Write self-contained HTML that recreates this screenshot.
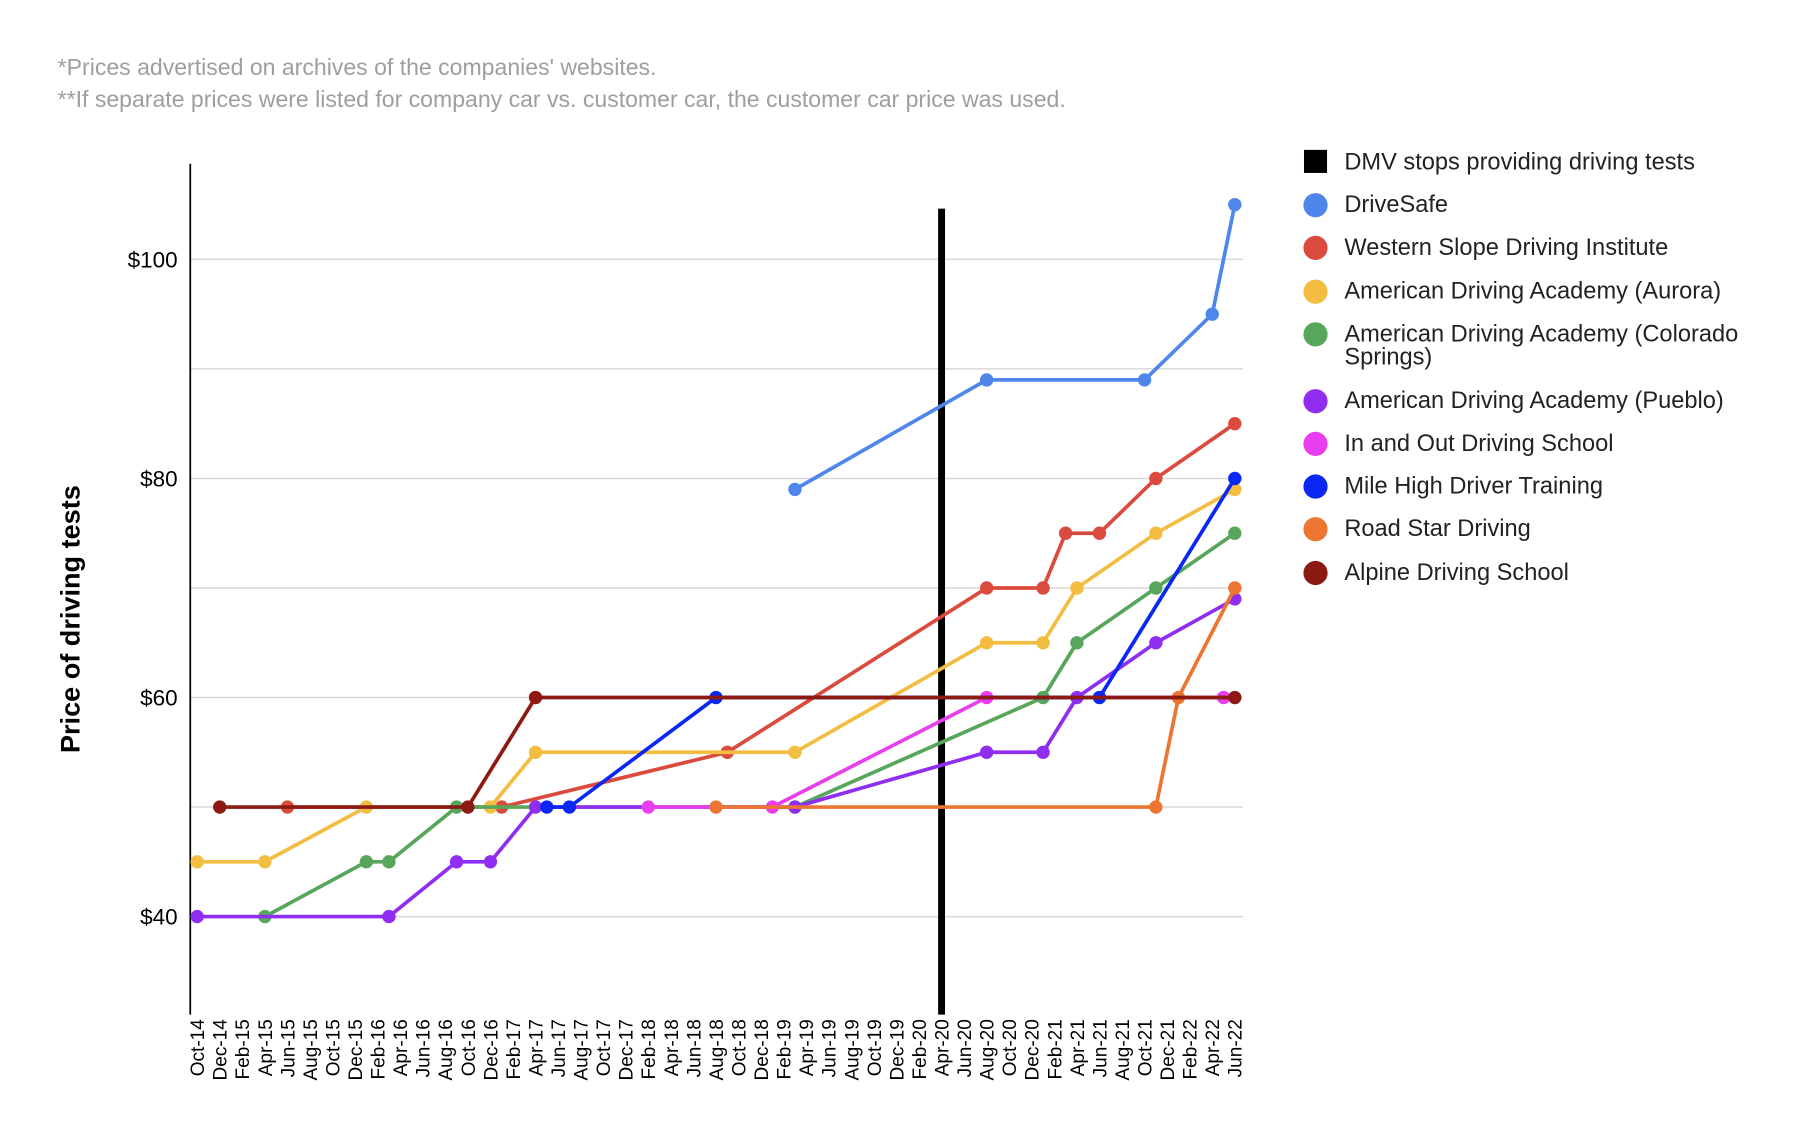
<!DOCTYPE html>
<html><head><meta charset="utf-8"><style>
html,body{margin:0;padding:0;background:#fff;}
svg{display:block;font-family:"Liberation Sans",Arial,sans-serif;}
</style></head><body>
<svg id="chart" width="1809" height="1146" viewBox="0 0 1569 994" xmlns="http://www.w3.org/2000/svg">
<text x="50" y="65" font-size="20" fill="#9e9e9e">*Prices advertised on archives of the companies' websites.</text>
<text x="50" y="93" font-size="20" fill="#9e9e9e">**If separate prices were listed for company car vs. customer car, the customer car price was used.</text>
<text transform="translate(69,537) rotate(-90)" text-anchor="middle" font-size="23.5" font-weight="bold" fill="#000">Price of driving tests</text>
<g id="grid"></g><g id="xlabels"></g><g id="series"></g><g id="legend"></g>
</svg>
<script>
const yTicks=[40,50,60,70,80,90,100];
const yTickLabels=["$40","","$60","","$80","","$100"];
const xLabels=["Oct-14","Dec-14","Feb-15","Apr-15","Jun-15","Aug-15","Oct-15","Dec-15","Feb-16","Apr-16","Jun-16","Aug-16","Oct-16","Dec-16","Feb-17","Apr-17","Jun-17","Aug-17","Oct-17","Dec-17","Feb-18","Apr-18","Jun-18","Aug-18","Oct-18","Dec-18","Feb-19","Apr-19","Jun-19","Aug-19","Oct-19","Dec-19","Feb-20","Apr-20","Jun-20","Aug-20","Oct-20","Dec-20","Feb-21","Apr-21","Jun-21","Aug-21","Oct-21","Dec-21","Feb-22","Apr-22","Jun-22"];
const dmvMonth=66;
const seriesNames=["DriveSafe","Western Slope Driving Institute","American Driving Academy (Aurora)","American Driving Academy (Colorado Springs)","American Driving Academy (Pueblo)","In and Out Driving School","Mile High Driver Training","Road Star Driving","Alpine Driving School"];
const seriesColors=["#4f86ec","#db4b3d","#f3bd42","#58a65c","#8f2ef0","#e83ef0","#0a27f5","#ed7532","#8c1a12"];
const driveSafeM=[53,70,84,90,92], driveSafeV=[79,89,89,95,105];
const westernM=[8,27,47,70,75,77,80,85,92], westernV=[50,50,55,70,70,75,75,80,85];
const auroraM=[0,6,15,26,30,53,70,75,78,85,92], auroraV=[45,45,50,50,55,55,65,65,70,75,79];
const coloradoM=[6,15,17,23,30,53,75,78,85,92], coloradoV=[40,45,45,50,50,50,60,65,70,75];
const puebloM=[0,17,23,26,30,53,70,75,78,85,92], puebloV=[40,40,45,45,50,50,55,55,60,65,69];
const inOutM=[40,51,70,91], inOutV=[50,50,60,60];
const mileHighM=[31,33,46,80,92], mileHighV=[50,50,60,60,80];
const roadStarM=[46,85,87,92], roadStarV=[50,50,60,70];
const alpineM=[2,24,30,92], alpineV=[50,50,60,60];
const allM=[driveSafeM,westernM,auroraM,coloradoM,puebloM,inOutM,mileHighM,roadStarM,alpineM];
const allV=[driveSafeV,westernV,auroraV,coloradoV,puebloV,inOutV,mileHighV,roadStarV,alpineV];

const NS="http://www.w3.org/2000/svg";
const x0=171,x1=1071,mMax=92;
const xM=m=>x0+(x1-x0)*m/mMax;
const yV=v=>225+(100-v)*9.5;
function mk(tag,attrs,parent){const e=document.createElementNS(NS,tag);for(const k in attrs)e.setAttribute(k,attrs[k]);parent.appendChild(e);return e;}
const grid=document.getElementById('grid');
yTicks.forEach((v,i)=>{
  const l=mk('line',{x1:165,x2:1078,y1:yV(v),y2:yV(v),stroke:'#d9d9d9','stroke-width':1.3},grid);
  
  
  if(yTickLabels[i]){
    const t=mk('text',{x:154,y:yV(v)+7,'text-anchor':'end','font-size':19.5,fill:'#000'},grid);
    t.textContent=yTickLabels[i];
    
    
  }
});
const ax=mk('line',{x1:165,x2:165,y1:142,y2:880,stroke:'#000','stroke-width':1.5},grid);


const xl=document.getElementById('xlabels');
xLabels.forEach((lab,i)=>{
  const x=x0+(x1-x0)*i/(xLabels.length-1);
  const t=mk('text',{transform:`translate(${x+6},884) rotate(-90)`,'text-anchor':'end','font-size':16.5,fill:'#000'},xl);
  t.textContent=lab;
  
  
});
const dmv=mk('line',{x1:xM(dmvMonth),x2:xM(dmvMonth),y1:181,y2:880,stroke:'#000','stroke-width':6},grid);


const sg=document.getElementById('series');
allM.forEach((ms,si)=>{
  const g=mk('g',{},sg);
  
  
  const pts=ms.map((m,j)=>xM(m)+','+yV(allV[si][j])).join(' ');
  const pl=mk('polyline',{points:pts,fill:'none',stroke:seriesColors[si],'stroke-width':3.2,'stroke-linejoin':'round'},g);
  
  
  ms.forEach((m,j)=>{
    const c=mk('circle',{cx:xM(m),cy:yV(allV[si][j]),r:5.8,fill:seriesColors[si]},g);
    
    
  });
});
const lg=document.getElementById('legend');
const legY=[140,177,214,252,289,347,384,421,458,496];
const legNames=["DMV stops providing driving tests"].concat(seriesNames);
const legColors=["#000"].concat(seriesColors);
legNames.forEach((n,i)=>{
  const g=mk('g',{},lg);
  
  
  const y=legY[i];
  if(i===0){mk('rect',{x:1131,y:y-10,width:20,height:20,fill:'#000'},g);}
  else{mk('circle',{cx:1141,cy:y+1,r:10.5,fill:legColors[i]},g);}
  const t=mk('text',{x:1166,y:y+7,'font-size':20.5,fill:'#222'},g);
  if(n==="American Driving Academy (Colorado Springs)"){
    t.textContent="American Driving Academy (Colorado";
    const t2=mk('text',{x:1166,y:y+27,'font-size':20.5,fill:'#222'},g);
    t2.textContent="Springs)";
  } else t.textContent=n;
});
</script>
</body></html>
